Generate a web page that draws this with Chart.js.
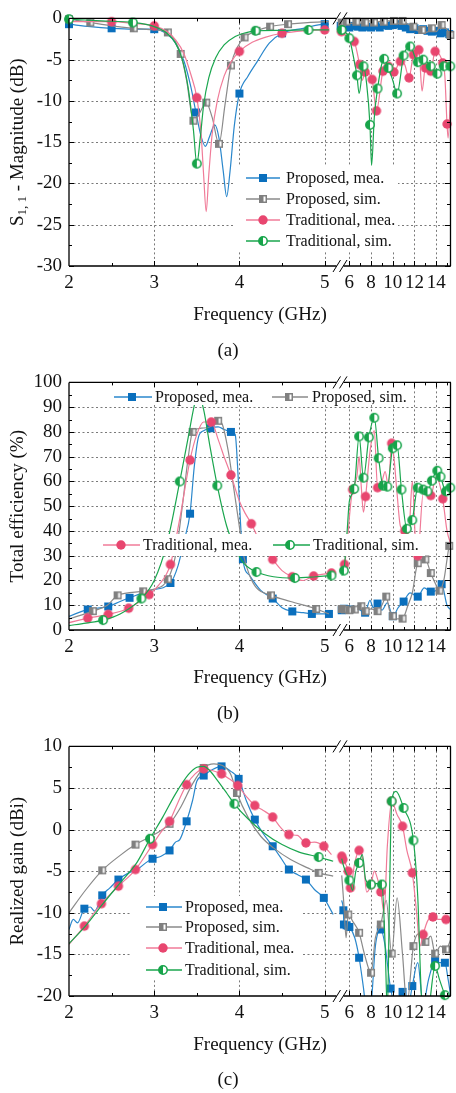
<!DOCTYPE html>
<html>
<head>
<meta charset="utf-8">
<script src="https://cdn.jsdelivr.net/npm/chart.js@4.4.1/dist/chart.umd.min.js"></script>
<style>
  html, body { margin: 0; padding: 0; background: #fff; }
  #wrap { position: relative; width: 456px; height: 1093px; overflow: hidden; }
  canvas { position: absolute; left: 0; }
</style>
</head>
<body>
<div id="wrap">
  <canvas id="ca" width="456" height="364" style="top:0px"></canvas>
  <canvas id="cb" width="456" height="364" style="top:364px"></canvas>
  <canvas id="cc" width="456" height="365" style="top:728px"></canvas>
</div>
<script>
// ---- axis data (frequency in GHz; the x axis is broken after 5 GHz) ----
const xTickF = [2, 3, 4, 5, 6, 8, 10, 12, 14];
const xTickLabels = ['2', '3', '4', '5', '6', '8', '10', '12', '14'];
const xMinorLeft = [2.5, 3.5, 4.5];
const xMinorRight = [7, 9, 11, 13, 15];
const seriesNames = ['Proposed, mea.', 'Proposed, sim.', 'Traditional, mea.', 'Traditional, sim.'];

// ---- (a) S11 magnitude (dB): [f, value, marker?] ----
const a_pmL = [[2.0,-0.7,1],[2.25,-1.0],[2.5,-1.2,1],[2.75,-1.3],[3.0,-1.3,1],[3.15,-1.9],[3.25,-3.0],[3.35,-5.2],[3.43,-8.3],[3.49,-11.4,1],[3.55,-14.3],[3.6,-15.5],[3.65,-14.3],[3.71,-12.9],[3.76,-14.5],[3.81,-18.5],[3.85,-21.6],[3.89,-18.5],[3.94,-13],[4.0,-9.1,1],[4.1,-7.0],[4.21,-5.2],[4.35,-3.0],[4.5,-1.8,1],[4.75,-1.2],[5.0,-0.7,1],[5.05,-0.7]];
const a_pmR = [[5.2,-0.9,1],[5.6,-1.0,1],[6.0,-1.1,1],[6.4,-0.9,1],[6.8,-1.0,1],[7.2,-1.1,1],[7.6,-1.0,1],[8.0,-1.1,1],[8.4,-0.9,1],[8.8,-1.1,1],[9.2,-0.8,1],[9.6,-0.9,1],[10.0,-0.8,1],[10.4,-0.7,1],[10.8,-0.9,1],[11.2,-1.1,1],[11.6,-1.3,1],[12.0,-1.2,1],[12.4,-1.4,1],[12.8,-1.3,1],[13.2,-1.5,1],[13.6,-1.6,1],[14.0,-1.5,1],[14.4,-1.8,1],[14.8,-1.7,1],[15.2,-1.9,1],[15.4,-2.0]];
const a_psL = [[2.0,-0.1,1],[2.25,-0.5,1],[2.5,-0.9],[2.76,-1.2,1],[3.0,-1.4],[3.16,-1.7,1],[3.25,-2.8],[3.31,-4.3,1],[3.38,-7.5],[3.46,-12.4,1],[3.53,-11.5],[3.61,-10.2,1],[3.68,-12],[3.76,-15.2,1],[3.83,-10.5],[3.9,-5.7,1],[3.98,-3.4],[4.06,-2.3,1],[4.2,-1.5,1],[4.36,-1.0,1],[4.57,-0.7,1],[4.8,-0.5],[5.05,-0.4]];
const a_psR = [[5.3,-0.5,1],[5.73,-0.4,1],[6.2,-0.6],[6.64,-0.4,1],[7.0,-0.6],[7.45,-0.5,1],[7.9,-0.3],[8.27,-0.5,1],[8.7,-0.4],[9.18,-0.4,1],[9.6,-0.3],[10.1,-0.3,1],[10.5,-0.6],[10.9,-0.3,1],[11.4,-0.7],[11.9,-1.0,1],[12.3,-1.5],[12.7,-1.4,1],[13.1,-1.7],[13.6,-1.2,1],[14.0,-1.6],[14.5,-0.8,1],[14.9,-1.2],[15.3,-2.0,1]];
const a_tmL = [[2.0,-0.4],[2.5,-0.4,1],[2.75,-0.6],[3.0,-0.9,1],[3.15,-1.6],[3.25,-2.6],[3.35,-4.3],[3.43,-6.8],[3.5,-9.6,1],[3.55,-14],[3.58,-19],[3.61,-23.4],[3.64,-19],[3.68,-14],[3.74,-10],[3.82,-7],[3.9,-5.3],[4.0,-4.0,1],[4.15,-2.9],[4.3,-2.3],[4.5,-1.8,1],[4.75,-1.5],[5.0,-1.4,1],[5.05,-1.4]];
const a_tmR = [[5.27,-1.6,1],[5.8,-2.2],[6.45,-2.8,1],[6.94,-5.6,1],[7.2,-7.5],[7.45,-6.5,1],[8.1,-7.4,1],[8.5,-11.2,1],[9.1,-6.4,1],[9.6,-5.8,1],[10.1,-6.5,1],[10.7,-5.2,1],[11.1,-5.6],[11.5,-7.2,1],[11.9,-4.4,1],[12.4,-3.8,1],[12.7,-8.8],[13.0,-6.0,1],[13.5,-6.4,1],[13.9,-4.0,1],[14.6,-5.4,1],[14.8,-7],[15.0,-12.8,1],[15.1,-14.5],[15.4,-6]];
const a_tsL = [[2.0,-0.1,1],[2.38,-0.3],[2.75,-0.5,1],[3.0,-1.0],[3.15,-1.8],[3.25,-3.0],[3.33,-5.0],[3.4,-8.5],[3.46,-13.5],[3.5,-17.6,1],[3.54,-14.5],[3.58,-10.5],[3.64,-7.2],[3.72,-4.8],[3.82,-3.2],[3.95,-2.2],[4.05,-1.8],[4.19,-1.5,1],[4.5,-1.45],[4.81,-1.4,1],[5.05,-1.4]];
const a_tsR = [[5.3,-1.4,1],[6.0,-2.4,1],[6.5,-5.5],[6.7,-6.9,1],[6.9,-9.1],[7.3,-5.8,1],[7.6,-8],[7.9,-12.9,1],[8.05,-17.8],[8.3,-12],[8.6,-8.5,1],[9.2,-4.9,1],[9.6,-6.0,1],[10.0,-7.5],[10.4,-9.1,1],[11.0,-4.5,1],[11.6,-3.4,1],[12.3,-5.3,1],[12.8,-5.0,1],[13.5,-5.8,1],[14.1,-6.7,1],[14.7,-5.8,1],[15.3,-5.8,1]];

// ---- (b) total efficiency (%) ----
const b_pmL = [[2.0,5.5],[2.22,8.3,1],[2.46,9.5,1],[2.6,11.5],[2.71,13,1],[2.95,16],[3.19,19,1],[3.28,26],[3.35,36],[3.42,47,1],[3.47,66],[3.52,78],[3.58,80.5],[3.66,81.5,1],[3.75,82],[3.82,81],[3.9,80,1],[3.95,79],[3.98,65],[4.01,45],[4.04,28.6,1],[4.12,22],[4.25,16],[4.39,12.7,1],[4.5,9],[4.62,7.5,1],[4.75,7],[4.85,6.5,1],[5.05,6.5,1]];
const b_pmR = [[5.3,8,1],[5.5,8.6,1],[5.8,9.2],[6.0,8.3,1],[6.5,9.5],[7.0,8.0],[7.45,7.0,1],[7.9,12],[8.2,9],[8.6,10.7,1],[9.0,8],[9.5,11],[10.0,5.6,1],[10.5,9],[11.0,11.5,1],[11.6,15],[12.3,13.5,1],[12.9,17],[13.5,15.5,1],[14.0,16],[14.5,18.5,1],[15.0,10],[15.4,8]];
const b_psL = [[2.0,4.5],[2.28,7.6,1],[2.45,10],[2.57,14,1],[2.87,15.6,1],[3.0,16.5],[3.16,20.5,1],[3.25,30],[3.33,50],[3.4,70],[3.45,80,1],[3.55,81.5],[3.65,82],[3.75,84.5,1],[3.8,83],[3.87,72],[3.93,58],[3.99,44],[4.05,30],[4.12,22],[4.2,17],[4.37,14,1],[4.6,11.5],[4.9,8.5,1],[5.05,6.5]];
const b_psR = [[5.3,8.5,1],[5.6,8.3,1],[6.0,8.0,1],[6.5,8.3,1],[7.1,9.6,1],[7.5,7.6,1],[8.0,8.5],[8.6,7.6,1],[9.0,10],[9.4,13.5,1],[9.7,8],[10.0,5.6,1],[10.4,4.5],[10.9,4.6,1],[11.4,10],[11.8,15],[12.3,27,1],[13.0,28.5,1],[13.5,23,1],[13.9,19],[14.3,15.9,1],[14.7,20],[15.2,34,1],[15.4,36]];
const b_tmL = [[2.0,3],[2.22,4.8,1],[2.46,6.3,1],[2.7,8.8,1],[2.94,14.3,1],[3.05,18],[3.19,26.5,1],[3.3,45],[3.42,68.6,1],[3.5,79],[3.58,84],[3.67,84,1],[3.75,77],[3.82,70],[3.9,62.6,1],[4.0,52],[4.07,47],[4.14,42.9,1],[4.25,35],[4.39,28.5,1],[4.5,24],[4.62,21.5,1],[4.75,20],[4.87,21.8,1],[5.08,23,1]];
const b_tmR = [[5.3,25],[5.55,26.5,1],[5.8,35],[6.1,50],[6.3,56.7,1],[6.7,62],[6.9,70],[7.1,58],[7.3,47.6],[7.5,53.9,1],[7.9,72],[8.3,80.5],[8.6,57.5,1],[9.0,60],[9.3,64],[9.6,58],[9.9,75.4,1],[10.1,70],[10.4,55],[10.7,42],[11.1,40,1],[11.5,41],[11.8,60],[12.1,35],[12.3,30,1],[12.8,55],[13.5,54.3,1],[14.0,62],[14.6,53,1],[15.0,40],[15.4,34]];
const b_tsL = [[2.0,1.8],[2.2,2.8],[2.4,4,1],[2.6,6.5],[2.85,12.7,1],[3.0,20],[3.15,35],[3.3,60,1],[3.4,78],[3.48,92],[3.52,95],[3.58,89],[3.65,75],[3.74,58.3,1],[3.85,42],[3.95,33],[4.05,27],[4.2,23.4,1],[4.4,21.5],[4.65,21,1],[4.9,21.5],[5.08,22,1]];
const b_tsR = [[5.3,22],[5.5,24,1],[5.8,40],[6.0,52],[6.45,57,1],[6.9,78.2,1],[7.3,61.5,1],[7.8,77.8,1],[8.3,85.7,1],[8.7,69.4,1],[9.1,58.3,1],[9.5,57.9,1],[10.0,73.4,1],[10.4,74.6,1],[10.8,56.7,1],[11.3,40.9,1],[11.8,44.4,1],[12.3,57.5,1],[12.8,56.7,1],[13.2,56,1],[13.6,60.3,1],[14.1,64.3,1],[14.4,61.9,1],[14.9,56,1],[15.3,57.5,1]];

// ---- (c) realized gain (dBi) ----
const c_pmL = [[2.0,-12],[2.05,-10.8],[2.1,-11.2],[2.18,-9.5,1],[2.25,-9.3],[2.3,-9.8],[2.39,-7.9,1],[2.48,-7],[2.58,-6.0,1],[2.7,-5.2],[2.8,-4.8],[2.9,-4.0],[2.98,-3.5,1],[3.08,-3.2],[3.18,-2.5,1],[3.25,-1.5],[3.3,-1.2],[3.38,1.0,1],[3.45,3.5],[3.5,5.8],[3.58,6.5,1],[3.68,7.2],[3.79,7.6,1],[3.9,7.0],[3.99,6.1,1],[4.08,3.5],[4.18,1.2,1],[4.28,-0.5],[4.39,-2.0,1],[4.48,-3.3],[4.58,-4.8,1],[4.68,-5.4],[4.78,-6.0,1],[4.88,-7.2],[4.99,-8.2,1],[5.1,-10.2]];
const c_pmR = [[5.3,-8.5],[5.45,-9.7,1],[5.5,-11.4,1],[5.6,-12],[5.75,-11.5,1],[6.0,-11.7,1],[6.5,-13],[6.9,-15.4,1],[7.3,-19],[7.6,-22],[8.0,-21],[8.4,-14],[8.9,-12,1],[9.3,-14],[9.8,-19.1,1],[10.3,-21],[10.9,-19.5,1],[11.3,-22],[11.8,-18.8,1],[12.3,-16],[12.8,-21],[13.3,-18],[13.9,-15.8,1],[14.3,-16],[14.8,-16,1],[15.1,-18],[15.4,-20.5]];
const c_psL = [[2.0,-10],[2.2,-7.2],[2.39,-4.9,1],[2.6,-3.1],[2.78,-1.8,1],[3.0,-0.6],[3.18,0.7,1],[3.3,2.5],[3.45,5.5],[3.58,7.4,1],[3.7,7.9],[3.8,7.7],[3.9,6.6],[3.97,4.4,1],[4.1,1.5],[4.25,-0.8],[4.4,-2.2],[4.6,-3.6],[4.8,-4.6],[4.93,-5.2,1],[5.1,-5.6]];
const c_psR = [[5.3,-5.5],[5.5,-9],[5.7,-13],[5.9,-10.2,1],[6.3,-11],[6.9,-12.4,1],[7.4,-15],[8.0,-17.2,1],[8.4,-13],[8.9,-11.4,1],[9.4,-8.5],[9.9,-14.9,1],[10.4,-8.2],[10.9,-15],[11.3,-21],[11.9,-14,1],[12.4,-12.5],[13.0,-13.5,1],[13.5,-12.8],[13.9,-14.9,1],[14.4,-14],[14.9,-14.4,1],[15.4,-13]];
const c_tmL = [[2.0,-13.8],[2.18,-11.6,1],[2.38,-8.9,1],[2.58,-6.8,1],[2.78,-4.8,1],[2.98,-1.8,1],[3.08,-0.3],[3.18,1.0,1],[3.28,3.3],[3.38,5.4,1],[3.48,6.7],[3.58,7.3,1],[3.68,7.1],[3.79,6.7,1],[3.88,6.1],[3.98,5.3,1],[4.08,4.0],[4.18,2.9,1],[4.28,2.3],[4.39,1.5,1],[4.48,0.3],[4.58,-0.6,1],[4.68,-0.7],[4.78,-1.6,1],[4.88,-1.5],[4.99,-2.0,1],[5.08,-3.0]];
const c_tmR = [[5.3,-3.2,1],[5.4,-3.6,1],[5.6,-4.0],[5.9,-5.0,1],[6.1,-7.0,1],[6.5,-4],[6.9,-2.5,1],[7.3,-4],[7.6,-7.5],[8.0,-6.6,1],[8.3,-5],[8.5,-5.5],[8.9,-7.5,1],[9.2,-10],[9.5,-2],[9.9,3.4,1],[10.4,1.8],[10.9,0.4,1],[11.3,-2.5],[11.8,-5.2,1],[12.2,-10],[12.5,-14],[12.8,-12.6,1],[13.2,-11],[13.7,-10.5,1],[14.2,-10.8],[14.9,-10.8,1],[15.4,-11]];
const c_tsL = [[2.0,-13.7],[2.2,-11.5],[2.4,-8.9],[2.6,-6.4],[2.8,-3.9],[2.95,-1.1,1],[3.1,1.5],[3.25,4.3],[3.4,6.6],[3.5,7.5],[3.58,7.6],[3.65,7.1],[3.75,5.8],[3.85,4.4],[3.94,3.1,1],[4.1,1.3],[4.3,-0.5],[4.5,-1.8],[4.7,-2.7],[4.93,-3.3,1],[5.1,-3.8]];
const c_tsR = [[5.3,-3.5],[5.5,-4.5],[5.8,-5.5],[6.0,-6.1,1],[6.3,-7.3],[6.6,-5],[6.9,-4.0,1],[7.2,-3],[7.5,-6],[8.0,-6.6,1],[8.5,-6.5],[9.0,-6.6,1],[9.3,-14],[9.5,-22],[9.7,-8],[9.9,3.4,1],[10.3,4.6],[11.0,2.6,1],[11.9,-1.3,1],[12.3,-8],[12.7,-21],[13.2,-22],[13.9,-16.4,1],[14.3,-18],[14.8,-19.9,1],[15.4,-22]];

// ---- drawing helpers ----
const FONT = "'Liberation Serif', 'Times New Roman', serif";
const U_MAX = 6.4827;
function uR(f) { return 5.2896 + 0.1274 * (f - 6); } // right (compressed) part of broken axis
const xMajorU = xTickF.map(f => (f <= 5 ? f : uR(f)));
const xMinorU = xMinorLeft.concat(xMinorRight.map(uR));

const COL = {
  pm: { line: '#2a87cc', mark: '#0a6fbd' },
  ps: { line: '#8a8a8a', mark: '#808080' },
  tm: { line: '#f07b98', mark: '#e8466f' },
  ts: { line: '#1aa64e', mark: '#17a44a' }
};

function markImg(kind, color) {
  const c = document.createElement('canvas');
  c.width = 12; c.height = 12;
  const g = c.getContext('2d');
  if (kind === 'sq') {
    g.fillStyle = color; g.fillRect(2, 2, 8, 8);
  } else if (kind === 'sqh') {
    g.fillStyle = '#fff'; g.fillRect(2, 2, 8, 8);
    g.fillStyle = color; g.fillRect(2, 2, 4.5, 8);
    g.strokeStyle = color; g.lineWidth = 1.5; g.strokeRect(2.75, 2.75, 6.5, 6.5);
  } else if (kind === 'ci') {
    g.fillStyle = color; g.beginPath(); g.arc(6, 6, 4.7, 0, 2 * Math.PI); g.fill();
  } else {
    g.fillStyle = '#fff'; g.beginPath(); g.arc(6, 6, 4.2, 0, 2 * Math.PI); g.fill();
    g.fillStyle = color; g.beginPath(); g.arc(6, 6, 4.2, Math.PI / 2, 3 * Math.PI / 2); g.closePath(); g.fill();
    g.strokeStyle = color; g.lineWidth = 1.5; g.beginPath(); g.arc(6, 6, 4.2, 0, 2 * Math.PI); g.stroke();
  }
  return c;
}
const IMG = {
  pm: markImg('sq', COL.pm.mark),
  ps: markImg('sqh', COL.ps.mark),
  tm: markImg('ci', COL.tm.mark),
  ts: markImg('cih', COL.ts.mark)
};
const KEYS = ['pm', 'ps', 'tm', 'ts'];

function buildDatasets(list) {
  const ds = [];
  list.forEach((s, i) => {
    const k = KEYS[i];
    const pts = s[0].map(p => ({ x: p[0], y: p[1] }))
      .concat([{ x: 5.16, y: null }], s[1].map(p => ({ x: uR(p[0]), y: p[1] })));
    const marks = s[0].filter(p => p[2]).map(p => ({ x: p[0], y: p[1] }))
      .concat(s[1].filter(p => p[2]).map(p => ({ x: uR(p[0]), y: p[1] })));
    ds.push({ data: pts, borderColor: COL[k].line, borderWidth: 1.2, pointRadius: 0,
      cubicInterpolationMode: 'monotone', spanGaps: false, order: 100 - 2 * i });
    ds.push({ data: marks, showLine: false, pointStyle: IMG[k], pointRadius: 4,
      order: 99 - 2 * i, clip: false });
  });
  return ds;
}

function line(ctx, x1, y1, x2, y2) { ctx.moveTo(x1, y1); ctx.lineTo(x2, y2); }

function decor(p) {
  return {
    id: 'decor',
    beforeDatasetsDraw(chart) {
      const { ctx, chartArea: a, scales: { x, y } } = chart;
      ctx.save();
      ctx.strokeStyle = '#6a6a6a'; ctx.lineWidth = 0.9; ctx.setLineDash([2, 2.5]);
      ctx.beginPath();
      xMajorU.slice(1).forEach(v => {
        const px = Math.round(x.getPixelForValue(v)) + 0.5;
        line(ctx, px, a.top, px, a.bottom);
      });
      for (let v = p.min + p.step; v < p.max - 1e-6; v += p.step) {
        const py = Math.round(y.getPixelForValue(v)) + 0.5;
        line(ctx, a.left, py, a.right, py);
      }
      ctx.stroke();
      ctx.restore();
    },
    afterDatasetsDraw(chart) {
      const { ctx, chartArea: a, scales: { x, y } } = chart;
      const T = a.top, B = a.bottom, L = a.left, R = a.right;
      ctx.save();
      // legend boxes and entries
      ctx.fillStyle = '#fff';
      p.boxes.forEach(b => ctx.fillRect(b[0], b[1], b[2] - b[0], b[3] - b[1]));
      ctx.font = '16px ' + FONT; ctx.textBaseline = 'middle';
      p.legend.forEach((e, i) => {
        const k = KEYS[i];
        ctx.strokeStyle = COL[k].line; ctx.lineWidth = 1.4;
        ctx.beginPath(); line(ctx, e.x1, e.y, e.x2, e.y); ctx.stroke();
        ctx.drawImage(IMG[k], e.xm - 6, e.y - 6);
        ctx.fillStyle = '#111'; ctx.fillText(seriesNames[i], e.xt, e.y + 1);
      });
      // frame with break
      ctx.strokeStyle = '#000'; ctx.lineWidth = 1.3;
      ctx.beginPath();
      line(ctx, L, T, L, B);
      line(ctx, R - 0.5, T, R - 0.5, B);
      [T, B].forEach(yy => {
        line(ctx, L, yy, 336.5, yy);
        line(ctx, 343.5, yy, R, yy);
      });
      ctx.stroke();
      ctx.lineWidth = 1;
      ctx.beginPath();
      [T, B].forEach(yy => {
        line(ctx, 333, yy + 6, 340.5, yy - 6);
        line(ctx, 339.5, yy + 6, 347, yy - 6);
      });
      // ticks (inward)
      xMajorU.slice(1).forEach(v => {
        const px = Math.round(x.getPixelForValue(v)) + 0.5;
        line(ctx, px, B, px, B - 5); line(ctx, px, T, px, T + 5);
      });
      xMinorU.forEach(v => {
        const px = Math.round(x.getPixelForValue(v)) + 0.5;
        line(ctx, px, B, px, B - 3); line(ctx, px, T, px, T + 3);
      });
      for (let v = p.min; v <= p.max + 1e-6; v += p.step / 2) {
        const py = Math.round(y.getPixelForValue(v)) + 0.5;
        const major = Math.abs(((v - p.min) / p.step) - Math.round((v - p.min) / p.step)) < 1e-6;
        const len = major ? 5 : 3;
        line(ctx, L, py, L + len, py); line(ctx, R - 1, py, R - 1 - len, py);
      }
      ctx.stroke();
      ctx.restore();
    },
    afterDraw(chart) {
      const { ctx, chartArea: a } = chart;
      ctx.save();
      ctx.fillStyle = '#111';
      ctx.textAlign = 'center'; ctx.textBaseline = 'middle';
      ctx.font = '19px ' + FONT;
      ctx.fillText('Frequency (GHz)', (a.left + a.right) / 2, p.xTitleY);
      ctx.fillText(p.caption, 228, p.captionY);
      // rotated y title
      ctx.translate(18, (a.top + a.bottom) / 2);
      ctx.rotate(-Math.PI / 2);
      ctx.textAlign = 'left';
      let total = 0;
      p.yTitle.forEach(t => { ctx.font = t.s + 'px ' + FONT; t.w = ctx.measureText(t.t).width; total += t.w; });
      let xx = -total / 2;
      p.yTitle.forEach(t => { ctx.font = t.s + 'px ' + FONT; ctx.fillText(t.t, xx, t.dy || 0); xx += t.w; });
      ctx.restore();
    }
  };
}

function makePanel(id, p) {
  const H = document.getElementById(id).height;
  return new Chart(document.getElementById(id), {
    type: 'line',
    data: { datasets: buildDatasets(p.series) },
    options: {
      responsive: false, animation: false, events: [],
      layout: { padding: { top: p.top, left: 0, right: 0, bottom: 0 } },
      plugins: { legend: { display: false }, tooltip: { enabled: false } },
      scales: {
        x: {
          type: 'linear', min: 2, max: U_MAX,
          afterBuildTicks: s => { s.ticks = xMajorU.map(v => ({ value: v })); },
          afterFit: s => { s.height = H - p.bottom; },
          grid: { display: false, drawTicks: false }, border: { display: false },
          ticks: { autoSkip: false, maxRotation: 0, padding: 6, color: '#111',
            font: { family: FONT, size: 19 }, callback: (v, i) => xTickLabels[i] }
        },
        y: {
          min: p.min, max: p.max,
          afterFit: s => { s.width = 69; },
          grid: { display: false, drawTicks: false }, border: { display: false },
          ticks: { stepSize: p.step, autoSkip: false, padding: 7, color: '#111',
            font: { family: FONT, size: 19 } }
        }
      }
    },
    plugins: [decor(p)]
  });
}

makePanel('ca', {
  series: [[a_pmL, a_pmR], [a_psL, a_psR], [a_tmL, a_tmR], [a_tsL, a_tsR]],
  min: -30, max: 0, step: 5, top: 13, bottom: 266,
  boxes: [[235, 166, 398, 251]],
  legend: [178, 199, 220, 241].map(yy => ({ y: yy, x1: 246, x2: 280, xm: 263, xt: 286 })),
  yTitle: [{ t: 'S', s: 19 }, { t: '1, 1', s: 13, dy: 5 }, { t: ' - Magnitude (dB)', s: 19 }],
  xTitleY: 315, caption: '(a)', captionY: 351
});

makePanel('cb', {
  series: [[b_pmL, b_pmR], [b_psL, b_psR], [b_tmL, b_tmR], [b_tsL, b_tsR]],
  min: 0, max: 100, step: 10, top: 14, bottom: 266,
  boxes: [[108, 18, 410, 41], [98, 170, 425, 192]],
  legend: [
    { y: 33, x1: 114, x2: 152, xm: 132, xt: 155 },
    { y: 33, x1: 272, x2: 308, xm: 289, xt: 312 },
    { y: 181, x1: 103, x2: 140, xm: 121, xt: 143 },
    { y: 181, x1: 273, x2: 310, xm: 290, xt: 313 }
  ],
  yTitle: [{ t: 'Total efficiency (%)', s: 19 }],
  xTitleY: 314, caption: '(b)', captionY: 350
});

makePanel('cc', {
  series: [[c_pmL, c_pmR], [c_psL, c_psR], [c_tmL, c_tmR], [c_tsL, c_tsR]],
  min: -20, max: 10, step: 5, top: 13, bottom: 268,
  boxes: [[132, 168, 302, 250]],
  legend: [179, 199, 220, 242].map(yy => ({ y: yy, x1: 146, x2: 182, xm: 163, xt: 185 })),
  yTitle: [{ t: 'Realized gain (dBi)', s: 19 }],
  xTitleY: 317, caption: '(c)', captionY: 352
});
</script>
</body>
</html>
